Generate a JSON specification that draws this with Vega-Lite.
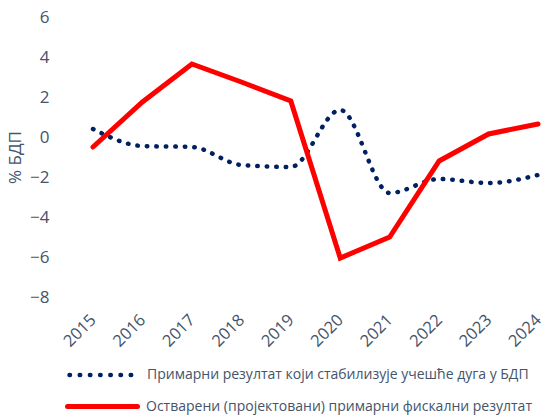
{
  "$schema": "https://vega.github.io/schema/vega-lite/v6.json",
  "width": 467,
  "height": 280,
  "autosize": {"type": "none"},
  "padding": {"left": 73, "top": 17, "right": 2, "bottom": 121},
  "background": "white",
  "config": {
    "view": {"stroke": null},
    "font": "Open Sans",
    "axis": {"grid": false, "domain": false, "ticks": false, "labelColor": "#44546A", "titleColor": "#44546A", "labelFont": "Open Sans", "titleFont": "Open Sans"},
    "legend": {"labelFont": "Open Sans", "labelFontSize": 14, "labelColor": "#44546A", "labelLimit": 500, "symbolType": "stroke"}
  },
  "data": {
    "values": [
      {"year": 2015, "series": "Примарни резултат који стабилизује учешће дуга у БДП", "value": 0.4},
      {"year": 2016, "series": "Примарни резултат који стабилизује учешће дуга у БДП", "value": -0.45},
      {"year": 2017, "series": "Примарни резултат који стабилизује учешће дуга у БДП", "value": -0.5},
      {"year": 2018, "series": "Примарни резултат који стабилизује учешће дуга у БДП", "value": -1.4},
      {"year": 2019, "series": "Примарни резултат који стабилизује учешће дуга у БДП", "value": -1.5},
      {"year": 2020, "series": "Примарни резултат који стабилизује учешће дуга у БДП", "value": 1.35},
      {"year": 2021, "series": "Примарни резултат који стабилизује учешће дуга у БДП", "value": -2.8},
      {"year": 2022, "series": "Примарни резултат који стабилизује учешће дуга у БДП", "value": -2.1},
      {"year": 2023, "series": "Примарни резултат који стабилизује учешће дуга у БДП", "value": -2.3},
      {"year": 2024, "series": "Примарни резултат који стабилизује учешће дуга у БДП", "value": -1.9},
      {"year": 2015, "series": "Остварени (пројектовани) примарни фискални резултат", "value": -0.5},
      {"year": 2016, "series": "Остварени (пројектовани) примарни фискални резултат", "value": 1.75},
      {"year": 2017, "series": "Остварени (пројектовани) примарни фискални резултат", "value": 3.65},
      {"year": 2018, "series": "Остварени (пројектовани) примарни фискални резултат", "value": 2.75},
      {"year": 2019, "series": "Остварени (пројектовани) примарни фискални резултат", "value": 1.8},
      {"year": 2020, "series": "Остварени (пројектовани) примарни фискални резултат", "value": -6.05},
      {"year": 2021, "series": "Остварени (пројектовани) примарни фискални резултат", "value": -5.0},
      {"year": 2022, "series": "Остварени (пројектовани) примарни фискални резултат", "value": -1.2},
      {"year": 2023, "series": "Остварени (пројектовани) примарни фискални резултат", "value": 0.15},
      {"year": 2024, "series": "Остварени (пројектовани) примарни фискални резултат", "value": 0.65}
    ]
  },
  "encoding": {
    "x": {
      "field": "year", "type": "quantitative",
      "scale": {"domain": [2014.5955, 2024.04], "nice": false, "zero": false},
      "axis": {"title": null, "values": [2015, 2016, 2017, 2018, 2019, 2020, 2021, 2022, 2023, 2024], "format": "d", "labelAngle": -45, "labelAlign": "right", "labelBaseline": "middle", "labelFontSize": 16.5, "labelPadding": 20, "labelDx": -3, "labelFlush": false, "labelOverlap": false, "labelBound": false}
    },
    "y": {
      "field": "value", "type": "quantitative",
      "scale": {"domain": [-8, 6], "nice": false},
      "axis": {"title": "% БДП", "values": [-8, -6, -4, -2, 0, 2, 4, 6], "labelFontSize": 17, "labelPadding": 24, "titleFontSize": 17, "titleFontWeight": "normal", "titlePadding": 5}
    }
  },
  "layer": [
    {
      "transform": [{"filter": "datum.series === 'Примарни резултат који стабилизује учешће дуга у БДП'"}],
      "mark": {"type": "line", "interpolate": "monotone", "strokeWidth": 4.5, "strokeCap": "round", "strokeDash": [0.5, 9]},
      "encoding": {
        "stroke": {
          "field": "series", "type": "nominal",
          "scale": {"domain": ["Примарни резултат који стабилизује учешће дуга у БДП"], "range": ["#002060"]},
          "legend": {"title": null, "orient": "none", "legendX": -6, "legendY": 323, "symbolSize": 4225, "symbolStrokeWidth": 4.5, "symbolDash": [0.5, 9.7], "labelOffset": 10,
            "encode": {"symbols": {"update": {"strokeCap": {"value": "round"}}}}}
        }
      }
    },
    {
      "transform": [{"filter": "datum.series === 'Остварени (пројектовани) примарни фискални резултат'"}],
      "mark": {"type": "line", "strokeWidth": 5, "strokeCap": "round", "strokeJoin": "miter"},
      "encoding": {
        "color": {
          "field": "series", "type": "nominal",
          "scale": {"domain": ["Остварени (пројектовани) примарни фискални резултат"], "range": ["#FF0000"]},
          "legend": {"title": null, "orient": "none", "legendX": -8, "legendY": 352, "symbolSize": 4900, "symbolStrokeWidth": 5, "labelOffset": 6,
            "encode": {"symbols": {"update": {"strokeCap": {"value": "round"}}}}}
        }
      }
    }
  ]
}
